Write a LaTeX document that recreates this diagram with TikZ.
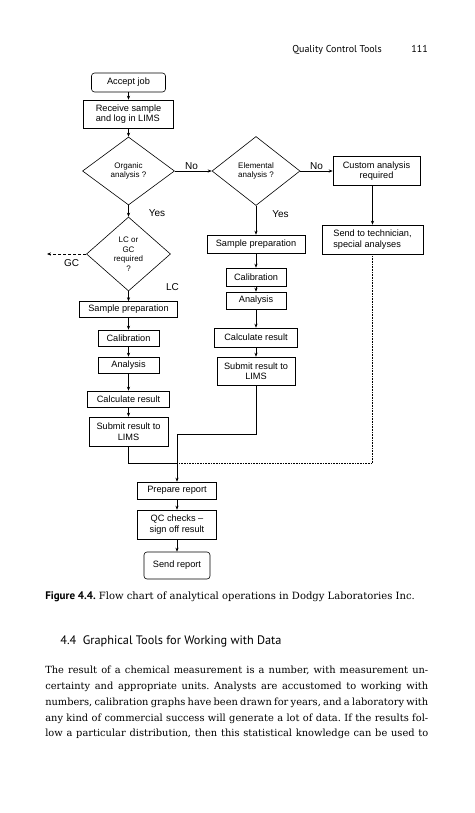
\documentclass[tikz,border=0pt]{standalone}
\usepackage{fontspec}
\setmainfont{DejaVu Serif}
\newfontfamily\chartfont{Liberation Sans}
\newfontfamily\headfont{PT Sans}
\usetikzlibrary{shapes.geometric,arrows.meta}
\newcommand{\bodyline}[1]{\hbox to 383pt{#1}}
\frenchspacing

\begin{document}
\begin{tikzpicture}[x=1pt,y=-1pt,line width=0.6pt,>={Stealth[length=4pt,width=3.2pt]},
    font=\chartfont\fontsize{9.2}{10.5}\selectfont]
        \tikzstyle{stepbox}=[rectangle,draw,inner sep=1pt,align=center]
        \tikzstyle{endbox}=[stepbox,rounded corners=3pt]
        \tikzstyle{query}=[diamond,draw,inner sep=0pt,align=center,font=\chartfont\fontsize{8}{9.5}\selectfont]
        \tikzstyle{edge}=[draw,->]
        \tikzstyle{answer}=[inner sep=0pt,font=\chartfont\fontsize{10}{12}\selectfont]
        \tikzstyle{pagetext}=[inner sep=0pt,anchor=base west]
        \useasboundingbox (0,0) rectangle (474,813);
       % running head
       \node [pagetext,font=\headfont\fontsize{10}{12}\selectfont] (runhead) at (292,53) {Quality Control Tools};
       \node [pagetext,anchor=base east,font=\headfont\fontsize{10}{12}\selectfont] (folio) at (428,53) {111};
       % flow chart
       \begin{scope}
         \node [endbox,minimum width=74pt,minimum height=19pt] (accept) at (128.5,82.5) {Accept job};
         \node [stepbox,align=left,minimum width=90pt,minimum height=28pt] (receive) at (128.5,114) {Receive sample\\and log in LIMS};
         \node [query,minimum width=92pt,minimum height=68pt] (organic) at (128.5,171) {Organic\\analysis ?};
         \node [query,minimum width=88pt,minimum height=69pt] (elemental) at (256,171) {Elemental\\analysis ?};
         \node [stepbox,minimum width=87pt,minimum height=29pt] (custom) at (376.5,171) {Custom analysis\\required};
         \node [stepbox,align=left,minimum width=101pt,minimum height=29pt] (tech) at (372.5,239.5) {Send to technician,\\special analyses};
         \node [query,minimum width=84pt,minimum height=74pt] (lcgc) at (128.5,254) {LC or\\GC\\required\\?};
         \coordinate (gcend) at (47,254);
         % LC column
         \node [stepbox,minimum width=98pt,minimum height=16pt] (prepL) at (128.5,309.5) {Sample preparation};
         \node [stepbox,minimum width=61pt,minimum height=16pt] (calL) at (128.5,338) {Calibration};
         \node [stepbox,minimum width=61pt,minimum height=16pt] (anaL) at (128.5,365) {Analysis};
         \node [stepbox,minimum width=82pt,minimum height=16pt] (calcL) at (128.5,399) {Calculate result};
         \node [stepbox,minimum width=79pt,minimum height=29pt] (subL) at (128.5,431.5) {Submit result to\\LIMS};
         % elemental column
         \node [stepbox,minimum width=98pt,minimum height=18pt] (prepE) at (256,244) {Sample preparation};
         \node [stepbox,minimum width=60pt,minimum height=18pt] (calE) at (256,277) {Calibration};
         \node [stepbox,minimum width=60pt,minimum height=17pt] (anaE) at (256,300.5) {Analysis};
         \node [stepbox,minimum width=83pt,minimum height=19pt] (calcE) at (256,337.5) {Calculate result};
         \node [stepbox,minimum width=78pt,minimum height=28pt] (subE) at (256,371) {Submit result to\\LIMS};
         % reporting
         \coordinate (joinE) at (177,434);
         \coordinate (merge) at (177,463);
         \node [stepbox,minimum width=79pt,minimum height=17pt] (report) at (177,490.5) {Prepare report};
         \node [stepbox,minimum width=79pt,minimum height=29pt] (qc) at (177,524.5) {QC checks \textendash\\sign off result};
         \node [endbox,minimum width=66pt,minimum height=27pt] (send) at (177,565.5) {Send report};
         % answers
         \node [answer] (noorg) at (191.5,166) {No};
         \node [answer] (noele) at (316.5,166) {No};
         \node [answer] (yesorg) at (157,213) {Yes};
         \node [answer] (yesele) at (280.5,214) {Yes};
         \node [answer] (gc) at (71.5,263.5) {GC};
         \node [answer] (lc) at (172.5,287.5) {LC};
         % connectors
         \path[edge] (accept) edge (receive);
         \path[edge] (receive) edge (organic);
         \path[edge] (organic) edge (elemental);
         \path[edge] (elemental) edge (custom);
         \draw[edge] (custom.south -| tech.north) -- (tech.north);
         \path[edge] (organic) edge (lcgc);
         \draw[edge,densely dashed] (lcgc) -- (gcend);
         \path[edge] (lcgc) edge (prepL);
         \path[edge] (prepL) edge (calL);
         \path[edge] (calL) edge (anaL);
         \path[edge] (anaL) edge (calcL);
         \path[edge] (calcL) edge (subL);
         \path[edge] (elemental) edge (prepE);
         \path[edge] (prepE) edge (calE);
         \path[edge] (calE) edge (anaE);
         \path[edge] (anaE) edge (calcE);
         \path[edge] (calcE) edge (subE);
         \draw[edge] (subE) -- (subE |- joinE) -- (joinE) -- (report);
         \draw (subL) -- (subL |- merge) -- (merge);
         \draw[densely dotted] (tech) -- (tech |- merge) -- (merge);
         \path[edge] (report) edge (qc);
         \path[edge] (qc) edge (send);
        \end{scope}
       % caption, heading and text
       \node [pagetext,font=\fontsize{10}{13}\selectfont] (caption) at (45,599)
         {{\headfont\bfseries\fontsize{11}{13}\selectfont Figure 4.4.}\ Flow chart of analytical operations in Dodgy Laboratories Inc.};
       \node [pagetext,font=\headfont\fontsize{12.3}{14}\selectfont] (section) at (60,644)
         {4.4\ \ Graphical Tools for Working with Data};
       \node [inner sep=0pt,anchor=north west,font=\fontsize{9.85}{15.8}\selectfont] (body) at (45,666) {\vbox{\baselineskip=15.8pt
         \bodyline{The result of a chemical measurement is a number, with measurement un-}
         \bodyline{certainty and appropriate units. Analysts are accustomed to working with}
         \bodyline{numbers, calibration graphs have been drawn for years, and a laboratory with}
         \bodyline{any kind of commercial success will generate a lot of data. If the results fol-}
         \bodyline{low a particular distribution, then this statistical knowledge can be used to}}};
      \end{tikzpicture}
\end{document}
